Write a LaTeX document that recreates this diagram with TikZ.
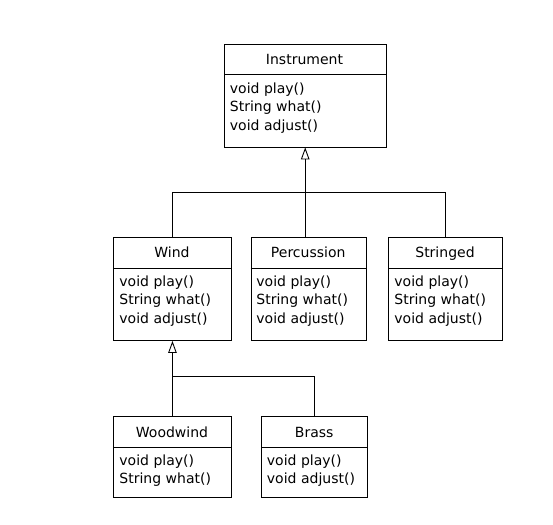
\documentclass[tikz,border=0pt]{standalone}
\usepackage{fontspec}
\setmainfont{DejaVu Sans}
\usetikzlibrary{arrows.meta,calc}
\begin{document}
\begin{tikzpicture}[x=1pt,y=-1pt,
  line width=0.9pt,
  cls/.style={draw, rectangle, anchor=north west, inner sep=0pt},
  ttl/.style={anchor=base, inner sep=0pt, font=\fontsize{14}{16}\selectfont},
  mem/.style={anchor=west, inner sep=0pt, font=\fontsize{14}{16}\selectfont},
  inh/.style={-{Triangle[open,length=12pt,width=8.5pt]}},
  conn/.style={draw}]
\useasboundingbox (0,0) rectangle (553,524);
% Instrument
\node[cls, minimum width=161.5, minimum height=102.5] (instr) at (224,44) {};
\draw (instr.west |- 0,74.3) -- (instr.east |- 0,74.3);
\node[ttl] (instrT) at (304.5,64.5) {Instrument};
\node[mem] (instr1) at (229.5,89.5) {void play()};
\node[mem] (instr2) at (229.5,108) {String what()};
\node[mem] (instr3) at (229.5,126.5) {void adjust()};
% Wind
\node[cls, minimum width=117.4, minimum height=103.3] (wind) at (113.3,236.7) {};
\draw (wind.west |- 0,268.3) -- (wind.east |- 0,268.3);
\node[ttl] (windT) at (172,257.8) {Wind};
\node[mem] (wind1) at (119,282.5) {void play()};
\node[mem] (wind2) at (119,301) {String what()};
\node[mem] (wind3) at (119,319.5) {void adjust()};
% Percussion
\node[cls, minimum width=115, minimum height=103.3] (perc) at (250.7,236.7) {};
\draw (perc.west |- 0,268.3) -- (perc.east |- 0,268.3);
\node[ttl] (percT) at (308.2,257.8) {Percussion};
\node[mem] (perc1) at (256,282.5) {void play()};
\node[mem] (perc2) at (256,301) {String what()};
\node[mem] (perc3) at (256,319.5) {void adjust()};
% Stringed
\node[cls, minimum width=113.4, minimum height=103.3] (strg) at (388.3,236.7) {};
\draw (strg.west |- 0,268.3) -- (strg.east |- 0,268.3);
\node[ttl] (strgT) at (445,257.8) {Stringed};
\node[mem] (strg1) at (394,282.5) {void play()};
\node[mem] (strg2) at (394,301) {String what()};
\node[mem] (strg3) at (394,319.5) {void adjust()};
% Woodwind
\node[cls, minimum width=117.4, minimum height=81.3] (wood) at (113.3,416) {};
\draw (wood.west |- 0,447.3) -- (wood.east |- 0,447.3);
\node[ttl] (woodT) at (172,437) {Woodwind};
\node[mem] (wood1) at (119,461.5) {void play()};
\node[mem] (wood2) at (119,480) {String what()};
% Brass
\node[cls, minimum width=106.3, minimum height=81.3] (brass) at (261,416) {};
\draw (brass.west |- 0,447.3) -- (brass.east |- 0,447.3);
\node[ttl] (brassT) at (314.2,437) {Brass};
\node[mem] (brass1) at (266.5,461.5) {void play()};
\node[mem] (brass2) at (266.5,480) {void adjust()};
% connectors
\coordinate (hub1) at (304.5,192.3);
\coordinate (hub2) at (172,376.7);
\draw (wind.north) |- (hub1) -| (strg.north);
\draw[inh] (perc.north -| instr.south) -- (instr.south);
\draw (brass.north) |- (hub2);
\draw[inh] (wood.north) -- (wind.south);
\end{tikzpicture}
\end{document}
